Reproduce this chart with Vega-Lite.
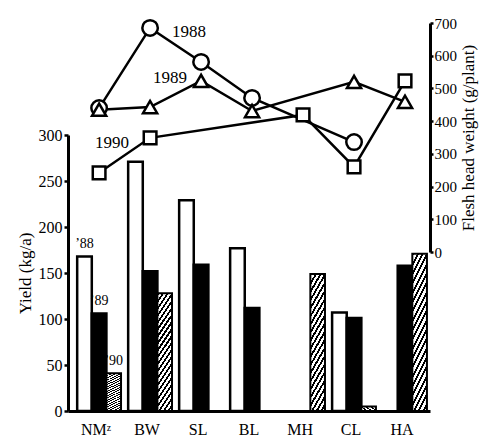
{
  "$schema": "https://vega.github.io/schema/vega-lite/v6.json",
  "width": 362,
  "height": 388,
  "autosize": {"type": "none"},
  "padding": {"left": 68, "top": 23, "right": 60, "bottom": 30},
  "background": "white",
  "config": {
    "view": {"stroke": null},
    "font": "Liberation Serif",
    "axis": {
      "grid": false,
      "domainColor": "black",
      "tickColor": "black",
      "labelColor": "black",
      "titleColor": "black",
      "labelFont": "Liberation Serif",
      "titleFont": "Liberation Serif",
      "titleFontWeight": "normal"
    }
  },
  "datasets": {
    "yield": [
      {"cat": "NMᶻ", "year": "’88", "kg": 168},
      {"cat": "NMᶻ", "year": "’89", "kg": 106},
      {"cat": "NMᶻ", "year": "’90", "kg": 41},
      {"cat": "BW", "year": "’88", "kg": 271},
      {"cat": "BW", "year": "’89", "kg": 152},
      {"cat": "BW", "year": "’90", "kg": 128},
      {"cat": "SL", "year": "’88", "kg": 229},
      {"cat": "SL", "year": "’89", "kg": 159},
      {"cat": "BL", "year": "’88", "kg": 177},
      {"cat": "BL", "year": "’89", "kg": 112},
      {"cat": "MH", "year": "’90", "kg": 149},
      {"cat": "CL", "year": "’88", "kg": 107},
      {"cat": "CL", "year": "’89", "kg": 101},
      {"cat": "CL", "year": "’90", "kg": 5},
      {"cat": "HA", "year": "’89", "kg": 158},
      {"cat": "HA", "year": "’90", "kg": 171}
    ],
    "weight": [
      {"series": "1988", "cat": "NMᶻ", "g": 440},
      {"series": "1988", "cat": "BW", "g": 685},
      {"series": "1988", "cat": "SL", "g": 581},
      {"series": "1988", "cat": "BL", "g": 471},
      {"series": "1988", "cat": "CL", "g": 336},
      {"series": "1989", "cat": "NMᶻ", "g": 435},
      {"series": "1989", "cat": "BW", "g": 443},
      {"series": "1989", "cat": "SL", "g": 523},
      {"series": "1989", "cat": "BL", "g": 431},
      {"series": "1989", "cat": "CL", "g": 520},
      {"series": "1989", "cat": "HA", "g": 459},
      {"series": "1990", "cat": "NMᶻ", "g": 242},
      {"series": "1990", "cat": "BW", "g": 349},
      {"series": "1990", "cat": "MH", "g": 419},
      {"series": "1990", "cat": "CL", "g": 260},
      {"series": "1990", "cat": "HA", "g": 523}
    ]
  },
  "layer": [
    {
      "data": {"name": "yield"},
      "encoding": {
        "x": {
          "field": "cat",
          "type": "nominal",
          "sort": ["NMᶻ", "BW", "SL", "BL", "MH", "CL", "HA"],
          "scale": {"domain": ["NMᶻ", "BW", "SL", "BL", "MH", "CL", "HA"], "paddingInner": 0.14, "paddingOuter": 0.12, "align": 0.75},
          "axis": {"title": null, "labelAngle": 0, "ticks": false, "domainWidth": 3, "labelPadding": 10, "labelFontSize": 16, "labelOffset": -3}
        },
        "xOffset": {"field": "year", "type": "nominal", "scale": {"domain": ["’88", "’89", "’90"], "paddingInner": 0, "paddingOuter": 0}},
        "y": {
          "field": "kg",
          "type": "quantitative",
          "scale": {"domain": [0, 300], "range": [388, 112], "nice": false},
          "axis": {"values": [0, 50, 100, 150, 200, 250, 300], "domainWidth": 3, "tickWidth": 2.5, "tickSize": 4, "labelFontSize": 16, "labelPadding": 2, "title": "Yield  (kg/a)", "titleFontSize": 17, "titlePadding": 4}
        }
      },
      "layer": [
        {
          "transform": [{"filter": {"field": "year", "oneOf": ["’88", "’89"]}}],
          "mark": {"type": "bar", "stroke": "black", "strokeWidth": 2.5},
          "encoding": {"fill": {"field": "year", "type": "nominal", "scale": {"domain": ["’88", "’89"], "range": ["white", "black"]}, "legend": null}}
        },
        {
          "transform": [{"filter": {"field": "year", "equal": "’90"}}],
          "mark": {
            "type": "bar",
            "stroke": "black",
            "strokeWidth": 2,
            "fill": {
              "gradient": "linear",
              "x1": 0, "y1": 0, "x2": 0.213, "y2": 1.146,
              "stops": [
                {"offset": 0, "color": "black"}, {"offset": 0.022, "color": "black"}, {"offset": 0.022, "color": "white"}, {"offset": 0.05, "color": "white"},
                {"offset": 0.05, "color": "black"}, {"offset": 0.072, "color": "black"}, {"offset": 0.072, "color": "white"}, {"offset": 0.1, "color": "white"},
                {"offset": 0.1, "color": "black"}, {"offset": 0.122, "color": "black"}, {"offset": 0.122, "color": "white"}, {"offset": 0.15, "color": "white"},
                {"offset": 0.15, "color": "black"}, {"offset": 0.172, "color": "black"}, {"offset": 0.172, "color": "white"}, {"offset": 0.2, "color": "white"},
                {"offset": 0.2, "color": "black"}, {"offset": 0.222, "color": "black"}, {"offset": 0.222, "color": "white"}, {"offset": 0.25, "color": "white"},
                {"offset": 0.25, "color": "black"}, {"offset": 0.272, "color": "black"}, {"offset": 0.272, "color": "white"}, {"offset": 0.3, "color": "white"},
                {"offset": 0.3, "color": "black"}, {"offset": 0.322, "color": "black"}, {"offset": 0.322, "color": "white"}, {"offset": 0.35, "color": "white"},
                {"offset": 0.35, "color": "black"}, {"offset": 0.372, "color": "black"}, {"offset": 0.372, "color": "white"}, {"offset": 0.4, "color": "white"},
                {"offset": 0.4, "color": "black"}, {"offset": 0.422, "color": "black"}, {"offset": 0.422, "color": "white"}, {"offset": 0.45, "color": "white"},
                {"offset": 0.45, "color": "black"}, {"offset": 0.472, "color": "black"}, {"offset": 0.472, "color": "white"}, {"offset": 0.5, "color": "white"},
                {"offset": 0.5, "color": "black"}, {"offset": 0.522, "color": "black"}, {"offset": 0.522, "color": "white"}, {"offset": 0.55, "color": "white"},
                {"offset": 0.55, "color": "black"}, {"offset": 0.572, "color": "black"}, {"offset": 0.572, "color": "white"}, {"offset": 0.6, "color": "white"},
                {"offset": 0.6, "color": "black"}, {"offset": 0.622, "color": "black"}, {"offset": 0.622, "color": "white"}, {"offset": 0.65, "color": "white"},
                {"offset": 0.65, "color": "black"}, {"offset": 0.672, "color": "black"}, {"offset": 0.672, "color": "white"}, {"offset": 0.7, "color": "white"},
                {"offset": 0.7, "color": "black"}, {"offset": 0.722, "color": "black"}, {"offset": 0.722, "color": "white"}, {"offset": 0.75, "color": "white"},
                {"offset": 0.75, "color": "black"}, {"offset": 0.772, "color": "black"}, {"offset": 0.772, "color": "white"}, {"offset": 0.8, "color": "white"},
                {"offset": 0.8, "color": "black"}, {"offset": 0.822, "color": "black"}, {"offset": 0.822, "color": "white"}, {"offset": 0.85, "color": "white"},
                {"offset": 0.85, "color": "black"}, {"offset": 0.872, "color": "black"}, {"offset": 0.872, "color": "white"}, {"offset": 0.9, "color": "white"},
                {"offset": 0.9, "color": "black"}, {"offset": 0.922, "color": "black"}, {"offset": 0.922, "color": "white"}, {"offset": 0.95, "color": "white"},
                {"offset": 0.95, "color": "black"}, {"offset": 0.972, "color": "black"}, {"offset": 0.972, "color": "white"}, {"offset": 1, "color": "white"}
              ]
            }
          }
        },
        {
          "transform": [{"filter": {"field": "cat", "equal": "NMᶻ"}}],
          "mark": {"type": "text", "baseline": "bottom", "dy": -5, "fontSize": 14, "font": "Liberation Serif", "color": "black"},
          "encoding": {"text": {"field": "year"}}
        }
      ]
    },
    {
      "data": {"name": "weight"},
      "encoding": {
        "x": {
          "field": "cat",
          "type": "nominal",
          "sort": ["NMᶻ", "BW", "SL", "BL", "MH", "CL", "HA"],
          "scale": {"domain": ["NMᶻ", "BW", "SL", "BL", "MH", "CL", "HA"], "paddingInner": 0.14, "paddingOuter": 0.12, "align": 0.75}
        },
        "y": {
          "field": "g",
          "type": "quantitative",
          "scale": {"domain": [0, 700], "range": [229, 0], "nice": false},
          "axis": {"orient": "right", "values": [0, 100, 200, 300, 400, 500, 600, 700], "domainWidth": 3, "tickWidth": 2.5, "tickSize": 3, "labelFontSize": 15, "labelPadding": 1, "title": "Flesh head weight  (g/plant)", "titleAngle": 270, "titleBaseline": "top", "titleFontSize": 17, "titlePadding": 4}
        }
      },
      "layer": [
        {
          "mark": {"type": "line", "color": "black", "strokeWidth": 2.5},
          "encoding": {"detail": {"field": "series", "type": "nominal"}}
        },
        {
          "mark": {"type": "point", "filled": true, "fill": "white", "stroke": "black", "strokeWidth": 2.5, "opacity": 1},
          "encoding": {
            "shape": {"field": "series", "type": "nominal", "scale": {"domain": ["1988", "1989", "1990"], "range": ["circle", "triangle-up", "square"]}, "legend": null},
            "size": {"field": "series", "type": "nominal", "scale": {"domain": ["1988", "1989", "1990"], "range": [240, 160, 210]}, "legend": null}
          }
        },
        {
          "transform": [{"filter": "datum.series == '1988' && datum.cat == 'BW'"}],
          "mark": {"type": "text", "align": "left", "dx": 22, "dy": 4, "fontSize": 17, "color": "black"},
          "encoding": {"text": {"field": "series"}}
        },
        {
          "transform": [{"filter": "datum.series == '1989' && datum.cat == 'SL'"}],
          "mark": {"type": "text", "align": "right", "dx": -14, "dy": -3, "fontSize": 17, "color": "black"},
          "encoding": {"text": {"field": "series"}}
        },
        {
          "transform": [{"filter": "datum.series == '1990' && datum.cat == 'BW'"}],
          "mark": {"type": "text", "align": "right", "dx": -21, "dy": 5, "fontSize": 17, "color": "black"},
          "encoding": {"text": {"field": "series"}}
        }
      ]
    }
  ],
  "resolve": {"scale": {"y": "independent"}}
}
